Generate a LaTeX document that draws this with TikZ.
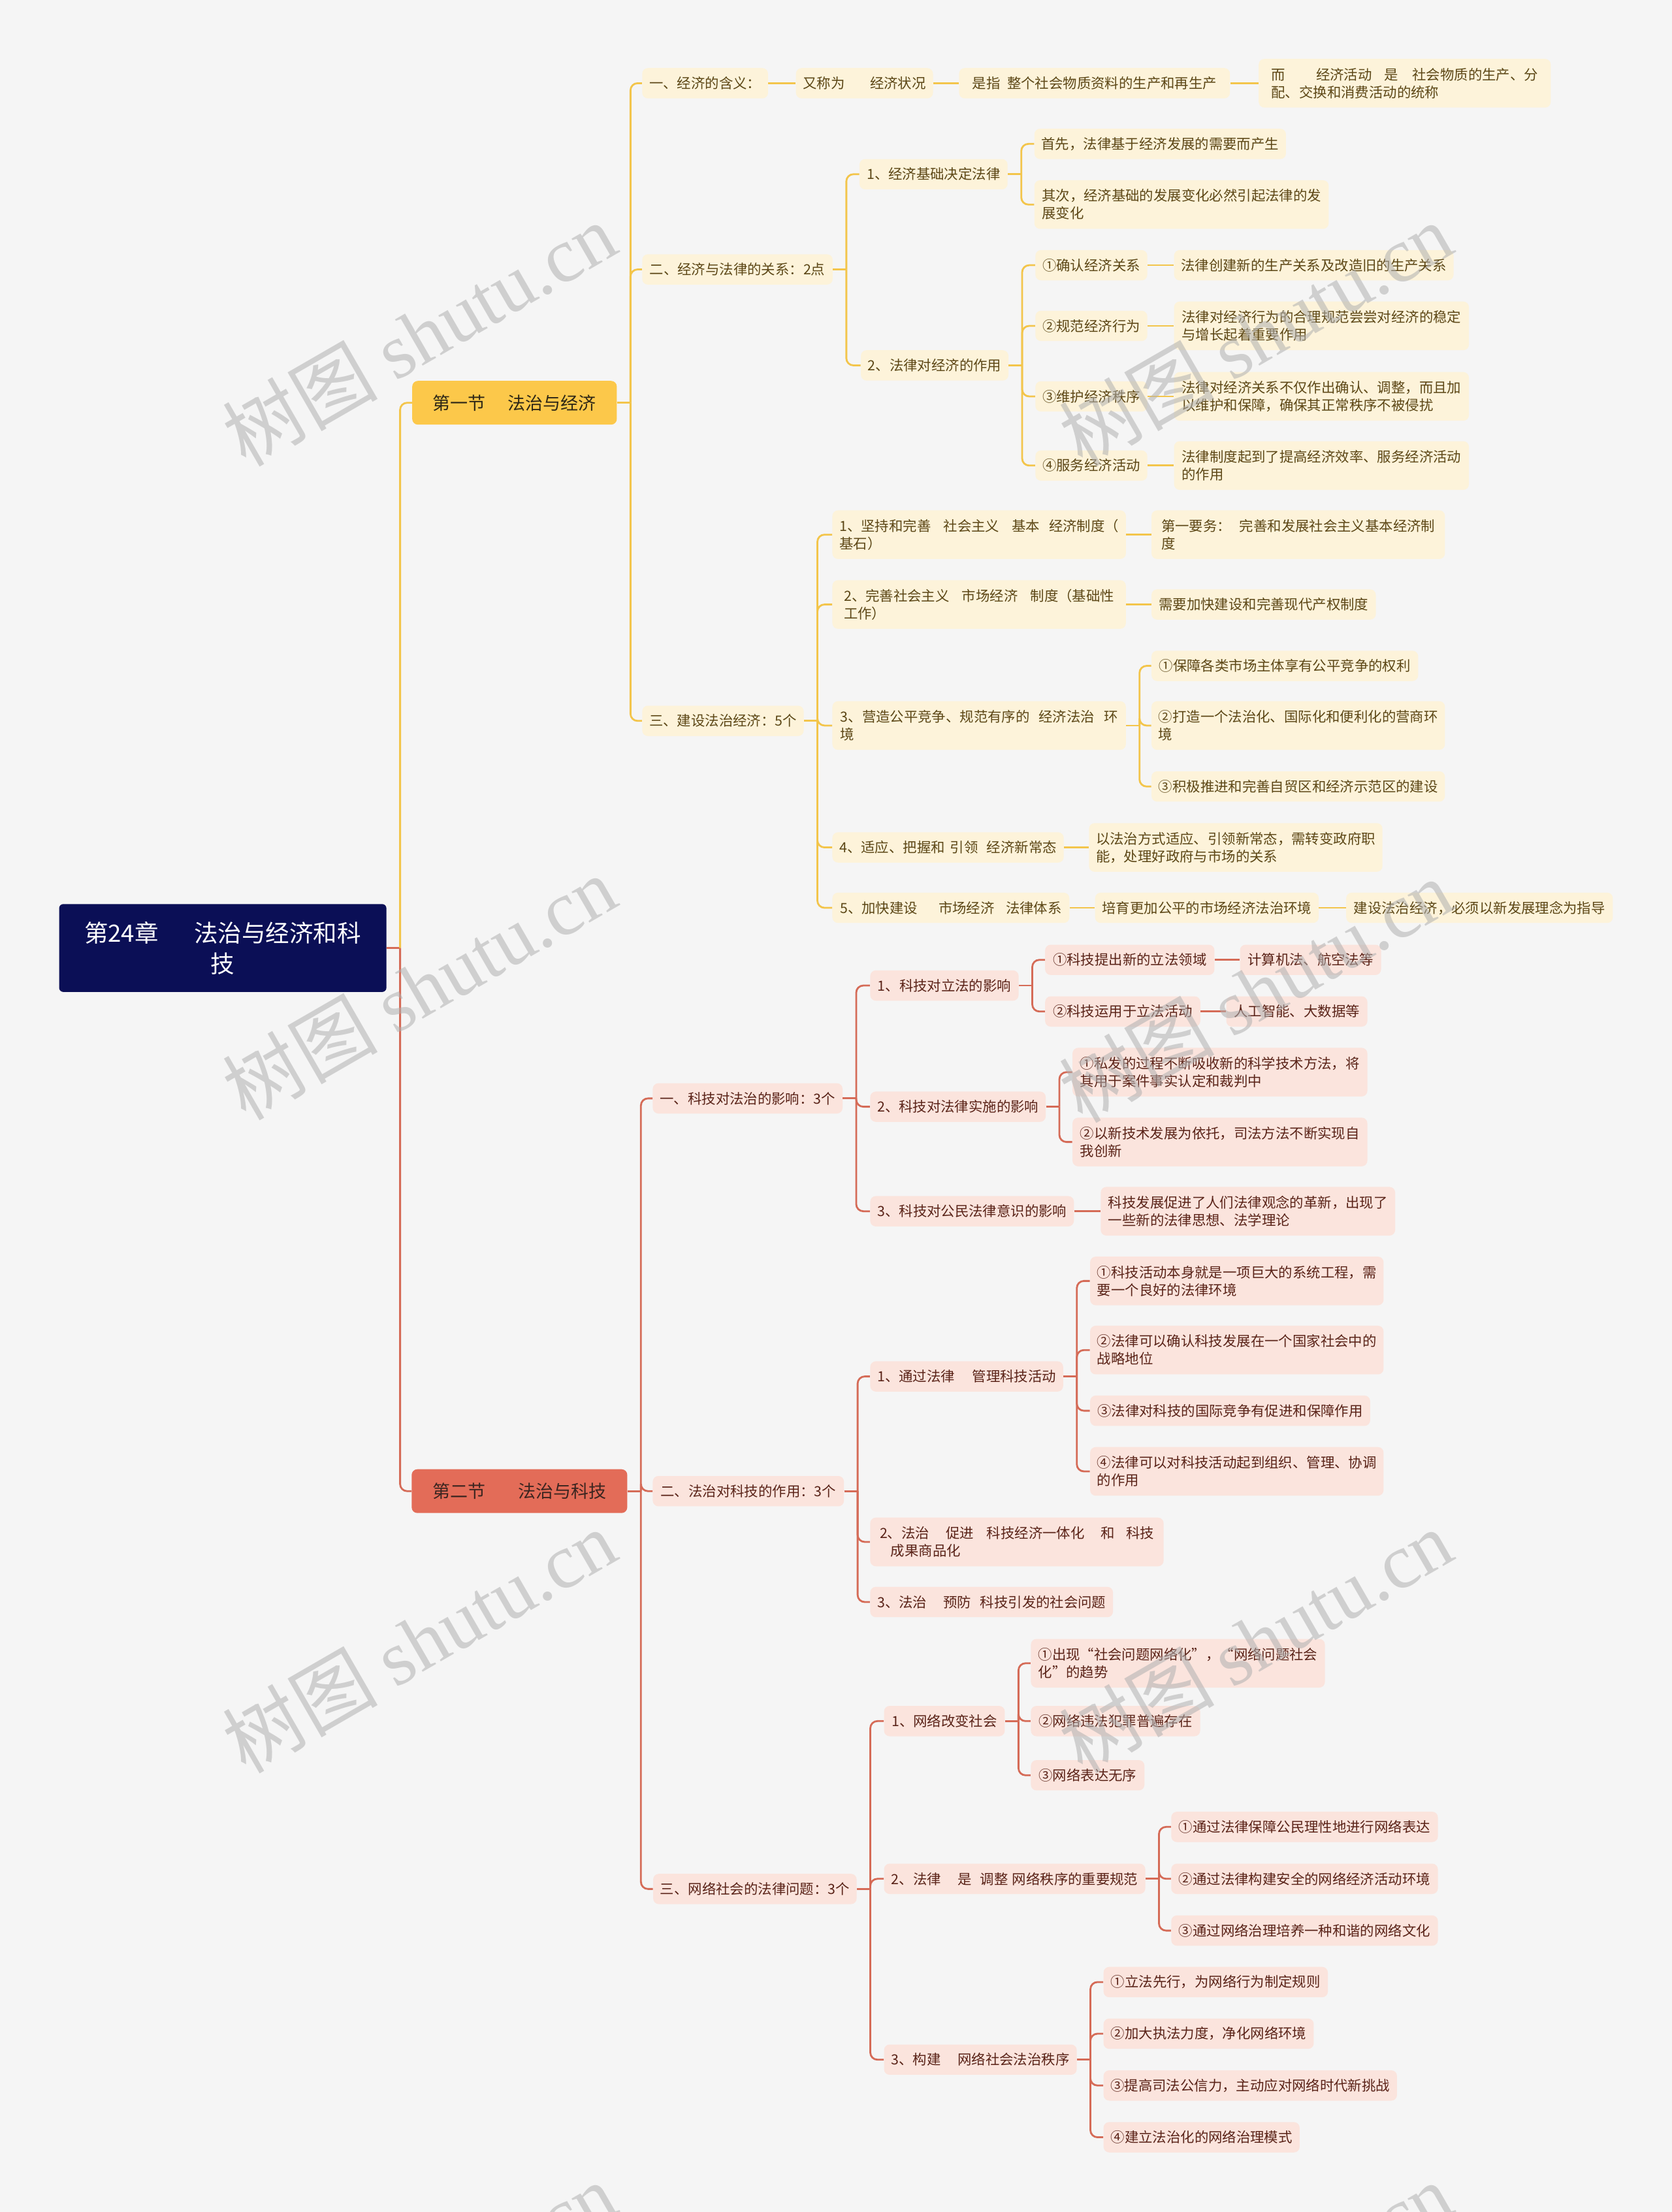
\documentclass[tikz,border=0pt]{standalone}
\usepackage{fontspec}
\setmainfont{Noto Sans CJK SC}
\newfontfamily\wmlatin{Liberation Serif}
\definecolor{bgc}{HTML}{F5F5F5}
\definecolor{rootc}{HTML}{0B0F56}
\definecolor{ysec}{HTML}{FCC84A}
\definecolor{yfill}{HTML}{FDF3DA}
\definecolor{ytext}{HTML}{5C4716}
\definecolor{yline}{HTML}{F3C54B}
\definecolor{ysectext}{HTML}{2E2716}
\definecolor{rsec}{HTML}{E36C58}
\definecolor{rfill}{HTML}{FBE4DD}
\definecolor{rtext}{HTML}{5A2318}
\definecolor{rline}{HTML}{D56B57}
\definecolor{rsectext}{HTML}{3B2520}
\definecolor{wmc}{HTML}{B0B0B0}
\tikzset{
  nbase/.style={anchor=west, rounded corners=4pt, inner xsep=5pt, inner ysep=0pt, minimum height=21.5pt, font=\fontsize{9.9}{12.5}\selectfont, align=left},
  yb/.style={nbase, fill=yfill, text=ytext},
  rb/.style={nbase, fill=rfill, text=rtext},
  two/.style={minimum height=34.5pt},
  ycon/.style={draw=yline, line width=1.3pt},
  rcon/.style={draw=rline, line width=1.3pt},
  secbox/.style={anchor=west, rounded corners=4pt, minimum height=31pt, inner xsep=5pt, inner ysep=0pt, font=\fontsize{12.5}{15}\selectfont, align=center},
  wm/.style={rotate=30, text=wmc, opacity=0.55, font=\fontsize{55}{60}\selectfont},
}
\newcommand{\mmbr}[3]{\draw[#1] (#2.east) -- ++(9.5,0);\draw[#1,rounded corners=5pt] (#2.east) ++(9.5,0) |- (#3.west);}
\newcommand{\mmln}[3]{\draw[#1] (#2.east) -- (#3.west);}
\begin{document}
\begin{tikzpicture}[x=1pt,y=-1pt]
\fill[bgc] (0,0) rectangle (1185,1568);
\useasboundingbox (0,0) rectangle (1185,1568);

% root and sections
\node[anchor=west, fill=rootc, text=white, rounded corners=3pt, minimum width=232pt, minimum height=62.3pt, inner sep=0pt, font=\fontsize{16.9}{21.8}\selectfont, align=center] (root) at (41.7,672) {第24章\hspace{1.5em}法治与经济和科\\技};
\node[secbox, fill=ysec, text=ysectext, minimum width=145pt] (S1) at (292,285.5) {第一节\hspace{1.25em}法治与经济};
\node[secbox, fill=rsec, text=rsectext, minimum width=152.8pt] (S2) at (291.6,1057) {第二节\hspace{1.85em}法治与科技};

\draw[rcon] (root.east) -- ++(9.5,0);
\draw[ycon, rounded corners=5pt] (root.east) ++(9.5,0) |- (S1.west);
\draw[rcon, rounded corners=5pt] (root.east) ++(9.5,0) |- (S2.west);

% ---------- Section 1 ----------
\node[yb, minimum width=89pt] (A1) at (455,59) {一、经济的含义：};
\node[yb, minimum width=97pt] (A1a) at (564,59) {又称为\hspace{1.8em}经济状况};
\node[yb, minimum width=192pt] (A1b) at (679.6,59) {是指\hspace{0.5em}整个社会物质资料的生产和再生产};
\node[yb, two, minimum width=207pt] (A1c) at (892,59) {而\hspace{2.2em}经济活动\hspace{0.9em}是\hspace{1em}社会物质的生产、分\\配、交换和消费活动的统称};

\node[yb, minimum width=135pt] (A2) at (455,191) {二、经济与法律的关系：2点};
\node[yb, minimum width=105pt] (B1) at (609,123.5) {1、经济基础决定法律};
\node[yb, minimum width=178pt] (B1a) at (733,102) {首先，法律基于经济发展的需要而产生};
\node[yb, two, minimum width=208.6pt] (B1b) at (733,145) {其次，经济基础的发展变化必然引起法律的发\\展变化};
\node[yb, minimum width=104pt] (B2) at (610,259) {2、法律对经济的作用};
\node[yb, minimum width=79pt] (B2a) at (733.7,188) {①确认经济关系};
\node[yb, minimum width=198pt] (B2a1) at (832,188) {法律创建新的生产关系及改造旧的生产关系};
\node[yb, minimum width=79pt] (B2b) at (733.7,231) {②规范经济行为};
\node[yb, two, minimum width=209pt] (B2b1) at (832,231) {法律对经济行为的合理规范尝尝对经济的稳定\\与增长起着重要作用};
\node[yb, minimum width=79pt] (B2c) at (733.7,281) {③维护经济秩序};
\node[yb, two, minimum width=209pt] (B2c1) at (832,281) {法律对经济关系不仅作出确认、调整，而且加\\以维护和保障，确保其正常秩序不被侵扰};
\node[yb, minimum width=79pt] (B2d) at (733.7,330) {④服务经济活动};
\node[yb, two, minimum width=209pt] (B2d1) at (832,330) {法律制度起到了提高经济效率、服务经济活动\\的作用};

\node[yb, minimum width=113pt] (A3) at (455,511) {三、建设法治经济：5个};
\node[yb, two, minimum width=208pt] (C1) at (589.8,379) {1、坚持和完善\hspace{0.9em}社会主义\hspace{0.9em}基本\hspace{0.65em}经济制度（\\基石）};
\node[yb, two, minimum width=208pt] (C1a) at (816,379) {第一要务：\hspace{0.6em}完善和发展社会主义基本经济制\\度};
\node[yb, two, minimum width=208pt] (C2) at (589.8,428.5) {2、完善社会主义\hspace{0.9em}市场经济\hspace{0.9em}制度（基础性\\工作）};
\node[yb, minimum width=159pt] (C2a) at (816,428.5) {需要加快建设和完善现代产权制度};
\node[yb, two, minimum width=208pt] (C3) at (589.8,514.3) {3、营造公平竞争、规范有序的\hspace{0.65em}经济法治\hspace{0.65em}环\\境};
\node[yb, minimum width=189pt] (C3a) at (816,472) {①保障各类市场主体享有公平竞争的权利};
\node[yb, two, minimum width=208pt] (C3b) at (816,514.3) {②打造一个法治化、国际化和便利化的营商环\\境};
\node[yb, minimum width=208pt] (C3c) at (816,557.5) {③积极推进和完善自贸区和经济示范区的建设};
\node[yb, minimum width=163pt] (C4) at (589.8,600.7) {4、适应、把握和\hspace{0.37em}引领\hspace{0.63em}经济新常态};
\node[yb, two, minimum width=208pt] (C4a) at (771.7,600.7) {以法治方式适应、引领新常态，需转变政府职\\能，处理好政府与市场的关系};
\node[yb, minimum width=168pt] (C5) at (589.8,643.5) {5、加快建设\hspace{1.5em}市场经济\hspace{0.82em}法律体系};
\node[yb, minimum width=158.5pt] (C5a) at (776,643.5) {培育更加公平的市场经济法治环境};
\node[yb, minimum width=189pt] (C5b) at (954,643.5) {建设法治经济，必须以新发展理念为指导};

% section 1 connectors
\mmbr{ycon}{S1}{A1}
\mmbr{ycon}{S1}{A2}
\mmbr{ycon}{S1}{A3}
\mmln{ycon}{A1}{A1a}
\mmln{ycon}{A1a}{A1b}
\mmln{ycon}{A1b}{A1c}
\mmbr{ycon}{A2}{B1}
\mmbr{ycon}{A2}{B2}
\mmbr{ycon}{B1}{B1a}
\mmbr{ycon}{B1}{B1b}
\mmbr{ycon}{B2}{B2a}
\mmbr{ycon}{B2}{B2b}
\mmbr{ycon}{B2}{B2c}
\mmbr{ycon}{B2}{B2d}
\mmln{ycon}{B2a}{B2a1}
\mmln{ycon}{B2b}{B2b1}
\mmln{ycon}{B2c}{B2c1}
\mmln{ycon}{B2d}{B2d1}
\mmbr{ycon}{A3}{C1}
\mmbr{ycon}{A3}{C2}
\mmbr{ycon}{A3}{C3}
\mmbr{ycon}{A3}{C4}
\mmbr{ycon}{A3}{C5}
\mmln{ycon}{C1}{C1a}
\mmln{ycon}{C2}{C2a}
\mmbr{ycon}{C3}{C3a}
\mmbr{ycon}{C3}{C3b}
\mmbr{ycon}{C3}{C3c}
\mmln{ycon}{C4}{C4a}
\mmln{ycon}{C5}{C5a}
\mmln{ycon}{C5a}{C5b}

% ---------- Section 2 ----------
\node[rb, minimum width=134.5pt] (D1) at (462.5,778.6) {一、科技对法治的影响：3个};
\node[rb, minimum width=105.2pt] (E1) at (616.6,698.6) {1、科技对立法的影响};
\node[rb, minimum width=120pt] (E1a) at (740.6,680.4) {①科技提出新的立法领域};
\node[rb, minimum width=100pt] (E1a1) at (878.7,680.4) {计算机法、航空法等};
\node[rb, minimum width=110pt] (E1b) at (740.6,717) {②科技运用于立法活动};
\node[rb, minimum width=100pt] (E1b1) at (869,717) {人工智能、大数据等};
\node[rb, minimum width=124.4pt] (E2) at (616.6,784.5) {2、科技对法律实施的影响};
\node[rb, two, minimum width=209pt] (E2a) at (760,760) {①私发的过程不断吸收新的科学技术方法，将\\其用于案件事实认定和裁判中};
\node[rb, two, minimum width=209pt] (E2b) at (760,809.5) {②以新技术发展为依托，司法方法不断实现自\\我创新};
\node[rb, minimum width=144.4pt] (E3) at (616.6,858.6) {3、科技对公民法律意识的影响};
\node[rb, two, minimum width=208.7pt] (E3a) at (780,858.6) {科技发展促进了人们法律观念的革新，出现了\\一些新的法律思想、法学理论};

\node[rb, minimum width=135.5pt] (D2) at (462.5,1057) {二、法治对科技的作用：3个};
\node[rb, minimum width=136.4pt] (F1) at (616.6,975.7) {1、通过法律\hspace{1.25em}管理科技活动};
\node[rb, two, minimum width=208pt] (F1a) at (772.5,908) {①科技活动本身就是一项巨大的系统工程，需\\要一个良好的法律环境};
\node[rb, two, minimum width=208pt] (F1b) at (772.5,957) {②法律可以确认科技发展在一个国家社会中的\\战略地位};
\node[rb, minimum width=198.5pt] (F1c) at (772.5,1000) {③法律对科技的国际竞争有促进和保障作用};
\node[rb, two, minimum width=208pt] (F1d) at (772.5,1043) {④法律可以对科技活动起到组织、管理、协调\\的作用};
\node[rb, two, minimum width=208pt] (F2) at (616.6,1093) {2、法治\hspace{1.18em}促进\hspace{0.93em}科技经济一体化\hspace{1.15em}和\hspace{0.82em}科技\\\hspace{0.79em}成果商品化};
\node[rb, minimum width=172pt] (F3) at (616.6,1135.6) {3、法治\hspace{1.18em}预防\hspace{0.64em}科技引发的社会问题};

\node[rb, minimum width=144.2pt] (D3) at (462.8,1339) {三、网络社会的法律问题：3个};
\node[rb, minimum width=85.6pt] (G1) at (626.4,1220) {1、网络改变社会};
\node[rb, two, minimum width=208.4pt] (G1a) at (730.5,1179) {①出现“社会问题网络化”，“网络问题社会\\化”的趋势};
\node[rb, minimum width=120pt] (G1b) at (730.5,1220) {②网络违法犯罪普遍存在};
\node[rb, minimum width=80.5pt] (G1c) at (730.5,1258.4) {③网络表达无序};
\node[rb, minimum width=185.2pt] (G2) at (626.4,1331.8) {2、法律\hspace{1.2em}是\hspace{0.6em}调整\hspace{0.3em}网络秩序的重要规范};
\node[rb, minimum width=189pt] (G2a) at (830,1295) {①通过法律保障公民理性地进行网络表达};
\node[rb, minimum width=189pt] (G2b) at (830,1331.8) {②通过法律构建安全的网络经济活动环境};
\node[rb, minimum width=189pt] (G2c) at (830,1368.5) {③通过网络治理培养一种和谐的网络文化};
\node[rb, minimum width=136.6pt] (G3) at (626.4,1460) {3、构建\hspace{1.2em}网络社会法治秩序};
\node[rb, minimum width=159pt] (G3a) at (782,1405) {①立法先行，为网络行为制定规则};
\node[rb, minimum width=149pt] (G3b) at (782,1441.6) {②加大执法力度，净化网络环境};
\node[rb, minimum width=208pt] (G3c) at (782,1478.3) {③提高司法公信力，主动应对网络时代新挑战};
\node[rb, minimum width=139pt] (G3d) at (782,1515) {④建立法治化的网络治理模式};

% section 2 connectors
\mmbr{rcon}{S2}{D1}
\mmbr{rcon}{S2}{D2}
\mmbr{rcon}{S2}{D3}
\mmbr{rcon}{D1}{E1}
\mmbr{rcon}{D1}{E2}
\mmbr{rcon}{D1}{E3}
\mmbr{rcon}{E1}{E1a}
\mmbr{rcon}{E1}{E1b}
\mmln{rcon}{E1a}{E1a1}
\mmln{rcon}{E1b}{E1b1}
\mmbr{rcon}{E2}{E2a}
\mmbr{rcon}{E2}{E2b}
\mmln{rcon}{E3}{E3a}
\mmbr{rcon}{D2}{F1}
\mmbr{rcon}{D2}{F2}
\mmbr{rcon}{D2}{F3}
\mmbr{rcon}{F1}{F1a}
\mmbr{rcon}{F1}{F1b}
\mmbr{rcon}{F1}{F1c}
\mmbr{rcon}{F1}{F1d}
\mmbr{rcon}{D3}{G1}
\mmbr{rcon}{D3}{G2}
\mmbr{rcon}{D3}{G3}
\mmbr{rcon}{G1}{G1a}
\mmbr{rcon}{G1}{G1b}
\mmbr{rcon}{G1}{G1c}
\mmbr{rcon}{G2}{G2a}
\mmbr{rcon}{G2}{G2b}
\mmbr{rcon}{G2}{G2c}
\mmbr{rcon}{G3}{G3a}
\mmbr{rcon}{G3}{G3b}
\mmbr{rcon}{G3}{G3c}
\mmbr{rcon}{G3}{G3d}

% watermarks
\foreach \wx/\wy [count=\i] in {297/237, 890/237, 297/700, 890/702, 297/1163, 890/1163, 297/1626, 890/1626}
  \node[wm] (wm\i) at (\wx,\wy) {树图 {\wmlatin shutu.cn}};
\end{tikzpicture}
\end{document}
